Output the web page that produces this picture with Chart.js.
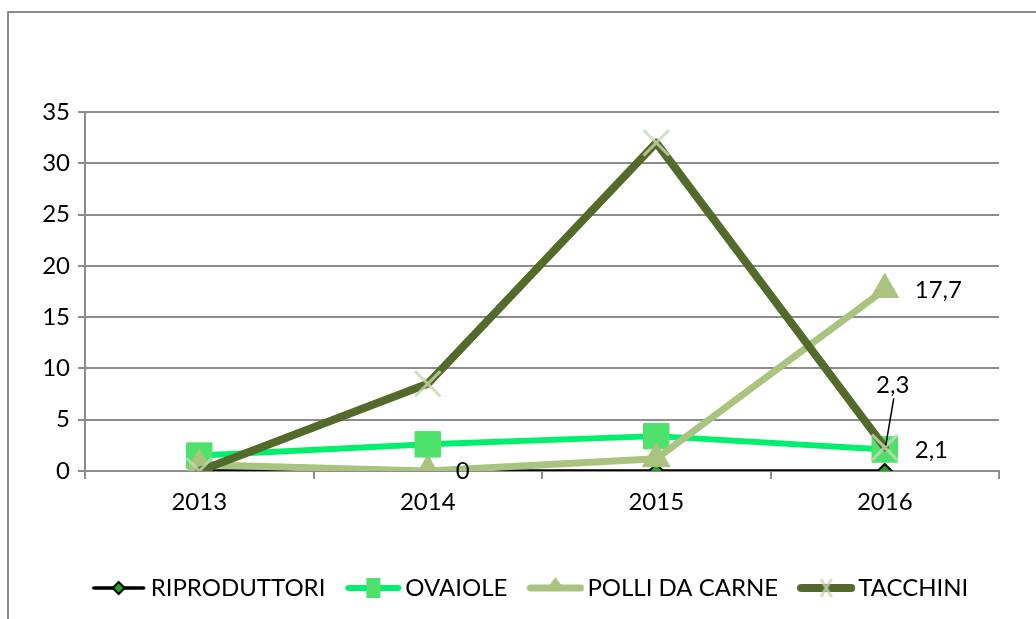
<!DOCTYPE html>
<html>
<head>
<meta charset="utf-8">
<script src="https://cdn.jsdelivr.net/npm/chart.js@4/dist/chart.umd.min.js"></script>
<style>
  html, body { margin: 0; padding: 0; background: #fff; }
</style>
</head>
<body>
<canvas id="chart" width="1036" height="619"></canvas>
<script>
// values
const years = ['2013', '2014', '2015', '2016'];
const riproduttori = [0, 0, 0, 0];
const ovaiole = [1.5, 2.6, 3.4, 2.1];
const polliDaCarne = [0.6, 0, 1.2, 17.7];
const tacchini = [0, 8.5, 32, 2.3];
const yMin = 0, yMax = 35, yStep = 5;

const FONT = 'Lato, Calibri, "Open Sans", sans-serif';
const FONT_SIZE = 24;
Chart.defaults.font.family = FONT;
Chart.defaults.font.size = FONT_SIZE;
Chart.defaults.color = '#000';

// legend swatch: a short line with the marker in the middle
function swatch(ds) {
  const c = document.createElement('canvas');
  c.width = 58; c.height = 26;
  const g = c.getContext('2d');
  g.lineCap = 'round';
  g.strokeStyle = ds.borderColor;
  g.lineWidth = Math.min(ds.borderWidth, 8);
  g.beginPath(); g.moveTo(4, 13); g.lineTo(54, 13); g.stroke();
  g.lineCap = 'butt';
  g.fillStyle = ds.pointBackgroundColor;
  g.strokeStyle = ds.pointBorderColor;
  g.lineWidth = ds.pointBorderWidth;
  g.beginPath();
  const r = ds.legendRadius;
  if (ds.pointStyle === 'rectRot') {
    g.moveTo(29, 13 - r); g.lineTo(29 + r, 13); g.lineTo(29, 13 + r); g.lineTo(29 - r, 13); g.closePath();
    g.fill(); g.stroke();
  } else if (ds.pointStyle === 'rect') {
    g.rect(29 - r * 0.7, 13 - r, r * 1.4, r * 2); g.fill();
  } else if (ds.pointStyle === 'triangle') {
    g.moveTo(29, 13 - r); g.lineTo(29 + r * 0.8, 13 + 1); g.lineTo(29 - r * 0.8, 13 + 1); g.closePath(); g.fill();
  } else {
    g.moveTo(29 - r * 0.6, 13 - r); g.lineTo(29 + r * 0.6, 13 + r);
    g.moveTo(29 + r * 0.6, 13 - r); g.lineTo(29 - r * 0.6, 13 + r); g.stroke();
  }
  return c;
}

const frame = {
  id: 'frame',
  beforeDraw(chart) {
    const ctx = chart.ctx;
    ctx.save();
    ctx.strokeStyle = '#8c8c8c';
    ctx.lineWidth = 2;
    ctx.strokeRect(8, 12, 1100, 1000);
    ctx.restore();
  }
};

const legendMove = {
  id: 'legendMove',
  afterLayout(chart) {
    const l = chart.legend;
    const dx = 34;
    l.left += dx; l.right += dx;
    const h = l.bottom - l.top;
    l.top = 548; l.bottom = l.top + h;
  }
};

const pointLabels = {
  id: 'pointLabels',
  afterDatasetsDraw(chart, args, opts) {
    const ctx = chart.ctx;
    ctx.save();
    ctx.font = FONT_SIZE + 'px ' + FONT;
    ctx.fillStyle = '#000';
    ctx.textBaseline = 'middle';
    opts.items.forEach(it => {
      const pt = chart.getDatasetMeta(it.series).data[it.index];
      const val = chart.data.datasets[it.series].data[it.index];
      const txt = String(val).replace('.', ',');
      const x = pt.x + it.dx, y = pt.y + it.dy;
      ctx.textAlign = it.leader ? 'center' : 'left';
      ctx.fillText(txt, x, y);
      if (it.leader) {
        ctx.strokeStyle = '#000';
        ctx.lineWidth = 1.5;
        ctx.beginPath();
        ctx.moveTo(x + 1, y + 13);
        ctx.lineTo(pt.x + 1, pt.y - 2);
        ctx.stroke();
      }
    });
    ctx.restore();
  }
};

const datasets = [
  {
    label: 'RIPRODUTTORI',
    data: riproduttori,
    borderColor: '#000000',
    borderWidth: 3.5,
    pointStyle: 'rectRot',
    pointRadius: 7,
    legendRadius: 6,
    pointBackgroundColor: '#1fa81f',
    pointBorderColor: '#000000',
    pointBorderWidth: 2,
    order: 4
  },
  {
    label: 'OVAIOLE',
    data: ovaiole,
    borderColor: '#00f06e',
    borderWidth: 6,
    pointStyle: 'rect',
    pointRadius: 18,
    legendRadius: 10,
    pointBackgroundColor: '#4ee26c',
    pointBorderColor: '#4ee26c',
    pointBorderWidth: 1,
    order: 3
  },
  {
    label: 'POLLI DA CARNE',
    data: polliDaCarne,
    borderColor: '#a9c47e',
    borderWidth: 7,
    pointStyle: 'triangle',
    pointRadius: 16,
    legendRadius: 11,
    pointBackgroundColor: '#a9c47e',
    pointBorderColor: '#a9c47e',
    pointBorderWidth: 1,
    order: 2
  },
  {
    label: 'TACCHINI',
    data: tacchini,
    borderColor: '#546a2b',
    borderWidth: 8,
    pointStyle: 'crossRot',
    pointRadius: 18,
    legendRadius: 9,
    pointBackgroundColor: 'rgba(200,216,176,0.8)',
    pointBorderColor: 'rgba(200,216,176,0.8)',
    pointBorderWidth: 3,
    order: 1
  }
];

new Chart(document.getElementById('chart'), {
  type: 'line',
  data: { labels: years, datasets },
  plugins: [frame, legendMove, pointLabels],
  options: {
    responsive: false,
    animation: false,
    devicePixelRatio: 1,
    layout: { padding: { left: 0, top: 112, right: 37, bottom: 0 } },
    elements: {
      line: { tension: 0, borderCapStyle: 'round', borderJoinStyle: 'round' },
      point: { hoverRadius: 0 }
    },
    plugins: {
      tooltip: { enabled: false },
      legend: {
        position: 'bottom',
        labels: {
          usePointStyle: true,
          pointStyleWidth: 40,
          padding: 28,
          font: { size: FONT_SIZE },
          generateLabels: (chart) => chart.data.datasets.map((ds, i) => ({
            text: ds.label,
            pointStyle: swatch(ds),
            fillStyle: ds.borderColor,
            strokeStyle: ds.borderColor,
            lineWidth: 0,
            hidden: false,
            datasetIndex: i
          }))
        }
      },
      pointLabels: {
        items: [
          { series: 2, index: 1, dx: 28, dy: 0 },
          { series: 2, index: 3, dx: 30, dy: 1 },
          { series: 1, index: 3, dx: 30, dy: 1 },
          { series: 3, index: 3, dx: 8, dy: -62, leader: true }
        ]
      }
    },
    scales: {
      x: {
        offset: true,
        grid: {
          offset: true,
          drawOnChartArea: false,
          drawTicks: true,
          tickLength: 8,
          color: '#8c8c8c',
          lineWidth: 2
        },
        border: { color: '#8c8c8c', width: 2 },
        ticks: { padding: 9, font: { size: FONT_SIZE }, color: '#000' },
        afterFit: (s) => { s.height = 619 - 471 - s.chart.legend.height; }
      },
      y: {
        min: yMin,
        max: yMax,
        ticks: { stepSize: yStep, padding: 8, font: { size: FONT_SIZE }, color: '#000' },
        grid: { color: '#8c8c8c', lineWidth: 2, tickLength: 7 },
        border: { color: '#8c8c8c', width: 2 },
        afterFit: (s) => { s.width = 85; }
      }
    }
  }
});
</script>
</body>
</html>
